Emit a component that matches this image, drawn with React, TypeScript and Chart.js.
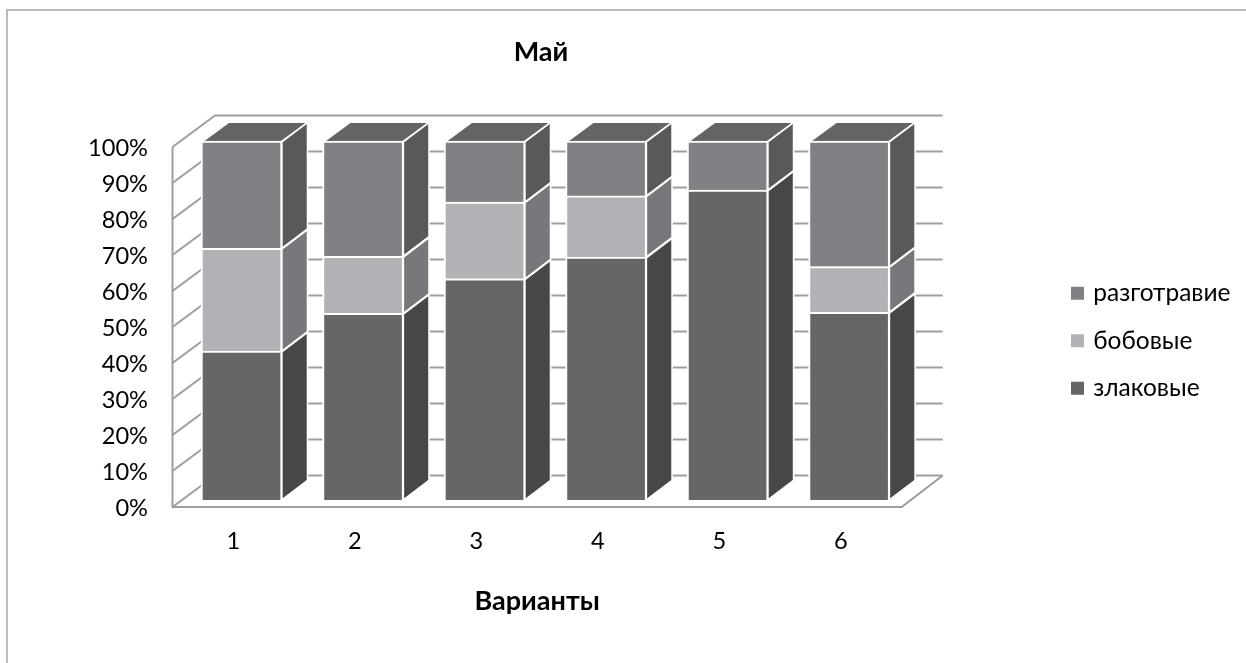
import React, { useEffect, useRef } from "react";
import { Chart, registerables } from "chart.js";

Chart.register(...registerables);

const categories = ["1", "2", "3", "4", "5", "6"];
const zlakovye = [41.5, 52, 61.6, 67.7, 86.3, 52.3];
const bobovye = [28.6, 15.9, 21.4, 17, 0, 12.7];
const razgotravie = [29.9, 32.1, 17, 15.3, 13.7, 35];
const percentTicks = [0, 10, 20, 30, 40, 50, 60, 70, 80, 90, 100];

const FONT = "Lato, sans-serif";
const TICK_SIZE = 23.6;
const LEGEND_SIZE = 24.5;
const TITLE_SIZE = 27;
const LINE = "#9d9ea0";
const CANVAS_W = 1246;
const CANVAS_H = 663;
const AREA_LEFT = 172.5;
const AREA_RIGHT = 901.7;
const AREA_TOP = 147;
const AREA_BOTTOM = 507;
const WALL_DX = 42.5;
const WALL_DY = 31.5;
const BAR_DX = 26.5;
const BAR_DY = 19.5;

const sideColors = ["#464749", "#77787b", "#58595b"];
const TOP_COLOR = "#636466";

function poly(ctx: CanvasRenderingContext2D, pts: number[][], fill: string) {
  ctx.beginPath();
  pts.forEach((p, i) => (i ? ctx.lineTo(p[0], p[1]) : ctx.moveTo(p[0], p[1])));
  ctx.closePath();
  ctx.fillStyle = fill;
  ctx.fill();
  ctx.strokeStyle = "#ffffff";
  ctx.lineWidth = 1.6;
  ctx.lineJoin = "miter";
  ctx.stroke();
}

const excelLook = {
  id: "excelLook",
  beforeUpdate(chart: any) {
    const legend = chart.legend;
    if (legend && !legend.__wide) {
      legend.__wide = true;
      const fit = legend.fit.bind(legend);
      legend.fit = () => {
        fit();
        legend.width = CANVAS_W - AREA_RIGHT;
      };
    }
  },
  beforeDraw(chart: any) {
    const ctx: CanvasRenderingContext2D = chart.ctx;
    // outer frame
    ctx.save();
    ctx.strokeStyle = "#a6a6a6";
    ctx.lineWidth = 1.5;
    ctx.beginPath();
    ctx.moveTo(7, CANVAS_H);
    ctx.lineTo(7, 10);
    ctx.lineTo(CANVAS_W, 10);
    ctx.stroke();
    ctx.restore();

    const title = chart.titleBlock;
    if (title) {
      title.left = 541 - 200;
      title.right = 541 + 200;
    }
    const legend = chart.legend;
    if (legend) {
      const p = legend.options.labels.padding;
      legend.left = 1074 - p;
      legend.right = CANVAS_W;
      legend.top = 281 - p;
      legend.bottom = CANVAS_H;
    }
  },
  beforeDatasetsDraw(chart: any) {
    const ctx: CanvasRenderingContext2D = chart.ctx;
    const yScale = chart.scales.y;
    ctx.save();
    ctx.strokeStyle = LINE;
    ctx.lineWidth = 2;
    // side wall and back wall grid lines
    percentTicks.forEach((v) => {
      const y = yScale.getPixelForValue(v);
      ctx.beginPath();
      ctx.moveTo(AREA_LEFT, y);
      ctx.lineTo(AREA_LEFT + WALL_DX, y - WALL_DY);
      ctx.lineTo(AREA_RIGHT + WALL_DX - 1.5, y - WALL_DY);
      ctx.stroke();
    });
    // front axis lines and floor
    ctx.beginPath();
    ctx.moveTo(AREA_LEFT, AREA_TOP);
    ctx.lineTo(AREA_LEFT, AREA_BOTTOM);
    ctx.lineTo(AREA_RIGHT, AREA_BOTTOM);
    ctx.lineTo(AREA_RIGHT + WALL_DX - 1.5, AREA_BOTTOM - WALL_DY);
    ctx.stroke();

    // depth faces of the stacked bars
    categories.forEach((_, i) => {
      let topY = Infinity;
      let L = 0;
      let R = 0;
      chart.data.datasets.forEach((ds: any, d: number) => {
        if (!ds.data[i]) return;
        const el = chart.getDatasetMeta(d).data[i];
        const { x, y, base, width } = el.getProps(["x", "y", "base", "width"], true);
        L = x - width / 2 + 1;
        R = x + width / 2 - 1;
        poly(
          ctx,
          [
            [R + 0.8, y + 0.8],
            [R + BAR_DX, y + 0.8 - BAR_DY],
            [R + BAR_DX, base - BAR_DY],
            [R + 0.8, base],
          ],
          sideColors[d]
        );
        topY = Math.min(topY, y);
      });
      poly(
        ctx,
        [
          [L, topY + 0.8],
          [L + BAR_DX, topY + 0.8 - BAR_DY],
          [R + BAR_DX, topY + 0.8 - BAR_DY],
          [R, topY + 0.8],
        ],
        TOP_COLOR
      );
    });
    ctx.restore();
  },
};

export default function App() {
  const ref = useRef<HTMLCanvasElement>(null);
  useEffect(() => {
    const barStyle = {
      xAxisID: "x2",
      yAxisID: "y2",
      barThickness: 81,
      borderColor: "#ffffff",
      borderWidth: { left: 2, right: 2, top: 2, bottom: 0 },
      borderSkipped: false,
      clip: false,
    };
    const chart = new Chart(ref.current as HTMLCanvasElement, {
      type: "bar",
      data: {
        labels: categories,
        datasets: [
          { label: "злаковые", data: zlakovye, backgroundColor: "#666668", ...barStyle },
          { label: "бобовые", data: bobovye, backgroundColor: "#b1b2b5", ...barStyle },
          { label: "разготравие", data: razgotravie, backgroundColor: "#808184", ...barStyle },
        ],
      } as any,
      options: {
        responsive: false,
        animation: false,
        layout: { padding: 0 },
        plugins: {
          tooltip: { enabled: false },
          title: {
            display: true,
            text: "Май",
            fullSize: false,
            color: "#000000",
            font: { family: FONT, size: TITLE_SIZE, weight: "bold" },
            padding: { top: 36, bottom: 78.6 },
          },
          legend: {
            position: "right",
            align: "start",
            reverse: true,
            labels: {
              color: "#000000",
              boxWidth: 7,
              boxHeight: 7,
              padding: 23,
              font: { family: FONT, size: LEGEND_SIZE },
              generateLabels: (c: any) =>
                Chart.defaults.plugins.legend.labels
                  .generateLabels(c)
                  .map((it: any) => ({ ...it, lineWidth: 6, strokeStyle: it.fillStyle, lineCap: "butt", lineJoin: "miter" })),
            },
          },
        },
        scales: {
          x: {
            type: "category",
            offset: true,
            grid: { display: false },
            border: { display: false },
            ticks: { color: "#000000", font: { family: FONT, size: TICK_SIZE }, padding: 12.6 },
            title: {
              display: true,
              text: "Варианты",
              color: "#000000",
              font: { family: FONT, size: TITLE_SIZE, weight: "bold" },
              padding: { bottom: 45.8 },
            },
            afterFit: (s: any) => {
              s.height = CANVAS_H - AREA_BOTTOM;
            },
          },
          y: {
            type: "linear",
            min: 0,
            max: 100,
            grid: { display: false },
            border: { display: false },
            ticks: {
              stepSize: 10,
              padding: 16.5,
              labelOffset: 1.5,
              color: "#000000",
              font: { family: FONT, size: TICK_SIZE },
              callback: (v: any) => v + "%",
            },
            afterFit: (s: any) => {
              s.width = AREA_LEFT;
            },
          },
          x2: { type: "linear", axis: "x", display: false, stacked: true, offset: false, min: 0.432, max: 6.433 },
          y2: { type: "linear", axis: "y", display: false, stacked: true, min: -1.95, max: 98.33 },
        },
      } as any,
      plugins: [excelLook],
    } as any);
    return () => chart.destroy();
  }, []);
  return (
    <div style={{ position: "absolute", left: 0, top: 0, width: CANVAS_W, height: CANVAS_H }}>
      <canvas ref={ref} width={CANVAS_W} height={CANVAS_H} style={{ display: "block" }} />
    </div>
  );
}
